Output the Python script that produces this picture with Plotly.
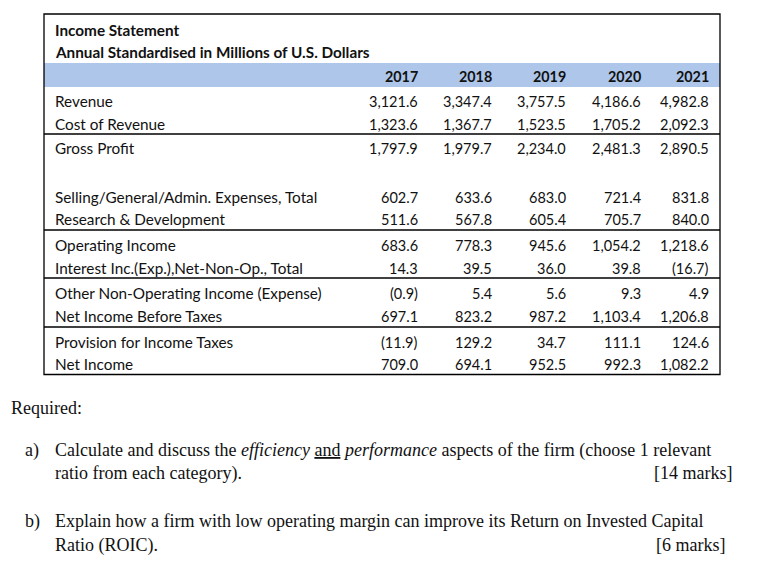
import plotly.graph_objects as go

# ---------------- data ----------------
years = ["2017", "2018", "2019", "2020", "2021"]
labels = [
    "Revenue",
    "Cost of Revenue",
    "Gross Profit",
    "Selling/General/Admin. Expenses, Total",
    "Research & Development",
    "Operating Income",
    "Interest Inc.(Exp.),Net-Non-Op., Total",
    "Other Non-Operating Income (Expense)",
    "Net Income Before Taxes",
    "Provision for Income Taxes",
    "Net Income",
]
v2017 = [3121.6, 1323.6, 1797.9, 602.7, 511.6, 683.6, 14.3, -0.9, 697.1, -11.9, 709.0]
v2018 = [3347.4, 1367.7, 1979.7, 633.6, 567.8, 778.3, 39.5, 5.4, 823.2, 129.2, 694.1]
v2019 = [3757.5, 1523.5, 2234.0, 683.0, 605.4, 945.6, 36.0, 5.6, 987.2, 34.7, 952.5]
v2020 = [4186.6, 1705.2, 2481.3, 721.4, 705.7, 1054.2, 39.8, 9.3, 1103.4, 111.1, 992.3]
v2021 = [4982.8, 2092.3, 2890.5, 831.8, 840.0, 1218.6, -16.7, 4.9, 1206.8, 124.6, 1082.2]
columns = [v2017, v2018, v2019, v2020, v2021]

title1 = "Income Statement"
title2 = "Annual Standardised in Millions of U.S. Dollars"

# ---------------- layout geometry (page pixels) ----------------
W, H = 762, 573
PAGE_MARGIN = 8  # default body margin of the html page
BOX_L, BOX_R, BOX_T, BOX_B = 44, 720, 14, 374.5
BAND_T, BAND_B = 63, 87
LABEL_X = 53
COL_RIGHT = [420, 494, 568, 643, 711]
ROW_Y = [101, 124, 148, 197, 219, 245, 268, 293, 316, 342, 364]
SEP_Y = [134, 230, 278, 327]

TABLE_FONT = "Lato, 'Open Sans', sans-serif"
SERIF = "'Liberation Serif', 'Times New Roman', serif"
INK = "#111111"
LFS = 15.3   # label font size
NFS = 14.5   # number font size


def fmt(v):
    s = "{:,.1f}".format(abs(v))
    return "(" + s + ")" if v < 0 else s


fig = go.Figure()
fig.add_trace(go.Scatter(x=[PAGE_MARGIN, W - PAGE_MARGIN], y=[PAGE_MARGIN, H - PAGE_MARGIN],
                         mode="markers", marker=dict(opacity=0),
                         hoverinfo="skip", showlegend=False))

shapes = []
shapes.append(dict(type="rect", xref="x", yref="y", x0=BOX_L, x1=BOX_R, y0=BAND_T, y1=BAND_B,
                   fillcolor="#ADC6E9", line=dict(width=0), layer="below"))
for sy in SEP_Y:
    shapes.append(dict(type="line", xref="x", yref="y", x0=BOX_L, x1=BOX_R, y0=sy, y1=sy,
                       line=dict(color="#000000", width=1.3)))
shapes.append(dict(type="rect", xref="x", yref="y", x0=BOX_L, x1=BOX_R, y0=BOX_T, y1=BOX_B,
                   line=dict(color="#000000", width=1.3), fillcolor="rgba(0,0,0,0)"))

ann = []


def txt(x, y, s, anchor="left", size=LFS, family=TABLE_FONT, bold=False):
    if bold:
        s = "<b>" + s + "</b>"
    ann.append(dict(x=x, y=y, xref="x", yref="y", text=s, showarrow=False,
                    xanchor=anchor, yanchor="middle",
                    font=dict(family=family, size=size, color=INK)))


txt(LABEL_X, 30, title1, bold=True)
txt(LABEL_X, 52, title2, bold=True)
for cx, yr in zip(COL_RIGHT, years):
    txt(cx, 76, yr, anchor="right", size=14.3, bold=True)
for ry, lab in zip(ROW_Y, labels):
    txt(LABEL_X, ry, lab)
for cx, col in zip(COL_RIGHT, columns):
    for ry, v in zip(ROW_Y, col):
        txt(cx, ry, fmt(v), anchor="right", size=NFS)

# question text
QFS = 18
txt(PAGE_MARGIN + 1, 408, "Required:", anchor="left", size=QFS, family=SERIF)
txt(23, 450, "a)", size=QFS, family=SERIF)
txt(53, 450, "Calculate and discuss the <i>efficiency</i> "
             "<span style='text-decoration:underline'>and</span> <i>performance</i> "
             "aspects of the firm (choose 1 relevant", size=QFS, family=SERIF)
txt(53, 473, "ratio from each category).", size=QFS, family=SERIF)
txt(734, 473, "[14 marks]", anchor="right", size=QFS, family=SERIF)
txt(23, 521, "b)", size=QFS, family=SERIF)
txt(53, 521, "Explain how a firm with low operating margin can improve its Return on Invested Capital",
    size=QFS, family=SERIF)
txt(53, 545, "Ratio (ROIC).", size=QFS, family=SERIF)
txt(727, 545, "[6 marks]", anchor="right", size=QFS, family=SERIF)

fig.update_layout(
    width=W - 2 * PAGE_MARGIN, height=H - 2 * PAGE_MARGIN,
    margin=dict(l=0, r=0, t=0, b=0),
    paper_bgcolor="white", plot_bgcolor="white",
    xaxis=dict(range=[PAGE_MARGIN, W - PAGE_MARGIN], visible=False, fixedrange=True),
    yaxis=dict(range=[H - PAGE_MARGIN, PAGE_MARGIN], visible=False, fixedrange=True),
    shapes=shapes, annotations=ann, showlegend=False,
)
fig.write_html("out.html")
